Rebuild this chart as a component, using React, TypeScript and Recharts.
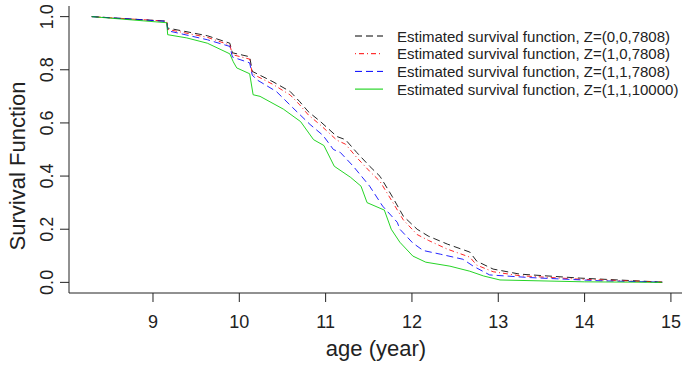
import React from 'react';
import { LineChart, Line, XAxis, YAxis, Legend } from 'recharts';

const FONT = '"Liberation Sans", Arial, Helvetica, sans-serif';

const xTicks = [9, 10, 11, 12, 13, 14, 15];
const yTicks = [0, 0.2, 0.4, 0.6, 0.8, 1.0];

const blackAge = [8.29, 9.16, 9.17, 9.63, 9.89, 9.92, 10.12, 10.15, 10.39, 10.59, 10.7, 10.8, 10.94, 11.13, 11.23, 11.36, 11.51, 11.63, 11.77, 11.9, 12.06, 12.19, 12.41, 12.67, 12.75, 12.94, 13.25, 13.95, 14.9];
const blackVal = [1.0, 0.983, 0.957, 0.928, 0.9, 0.864, 0.849, 0.794, 0.755, 0.718, 0.68, 0.642, 0.605, 0.549, 0.537, 0.489, 0.437, 0.399, 0.324, 0.249, 0.2, 0.174, 0.144, 0.114, 0.08, 0.05, 0.031, 0.016, 0.001];

const redAge = [8.29, 9.16, 9.17, 9.63, 9.89, 9.92, 10.12, 10.15, 10.39, 10.59, 10.7, 10.8, 10.94, 11.13, 11.23, 11.36, 11.51, 11.63, 11.77, 11.9, 12.06, 12.19, 12.41, 12.67, 12.75, 12.94, 13.25, 13.95, 14.9];
const redVal = [1.0, 0.983, 0.952, 0.922, 0.893, 0.857, 0.84, 0.785, 0.745, 0.705, 0.668, 0.63, 0.592, 0.535, 0.52, 0.47, 0.418, 0.38, 0.305, 0.235, 0.18, 0.158, 0.125, 0.095, 0.065, 0.04, 0.025, 0.012, 0.001];

const blueAge = [8.29, 9.16, 9.17, 9.63, 9.89, 9.92, 10.12, 10.15, 10.2, 10.43, 10.62, 10.82, 10.97, 11.09, 11.17, 11.32, 11.51, 11.66, 11.83, 11.86, 12.01, 12.13, 12.33, 12.59, 12.71, 12.9, 13.37, 14.18, 14.9];
const blueVal = [1.0, 0.982, 0.947, 0.913, 0.888, 0.848, 0.826, 0.78, 0.763, 0.718, 0.657, 0.594, 0.553, 0.5, 0.489, 0.437, 0.362, 0.287, 0.226, 0.2, 0.148, 0.12, 0.106, 0.087, 0.061, 0.028, 0.018, 0.006, 0.001];

const greenAge = [8.29, 9.16, 9.17, 9.39, 9.63, 9.89, 9.93, 9.97, 10.12, 10.16, 10.24, 10.51, 10.71, 10.86, 10.98, 11.1, 11.29, 11.41, 11.48, 11.68, 11.76, 11.86, 12.01, 12.16, 12.44, 12.67, 12.83, 13.02, 14.0, 14.9];
const greenVal = [1.0, 0.977, 0.932, 0.92, 0.9, 0.86, 0.83, 0.807, 0.785, 0.706, 0.7, 0.652, 0.605, 0.537, 0.515, 0.437, 0.395, 0.362, 0.3, 0.272, 0.2, 0.151, 0.099, 0.076, 0.061, 0.042, 0.024, 0.009, 0.002, 0.0];

const seriesNames = [
  'Estimated survival function, Z=(0,0,7808)',
  'Estimated survival function, Z=(1,0,7808)',
  'Estimated survival function, Z=(1,1,7808)',
  'Estimated survival function, Z=(1,1,10000)',
];

const toPts = (ages: number[], vals: number[]) => ages.map((a, i) => ({ a, v: vals[i] }));

const series = [
  { name: seriesNames[0], data: toPts(blackAge, blackVal), color: '#000000', dash: '7 4' },
  { name: seriesNames[1], data: toPts(redAge, redVal), color: '#ff0000', dash: '1 3 5 3' },
  { name: seriesNames[2], data: toPts(blueAge, blueVal), color: '#0000ff', dash: '7 4' },
  { name: seriesNames[3], data: toPts(greenAge, greenVal), color: '#00cd00', dash: undefined as string | undefined },
];

const XTick = (props: any) => {
  const { x, payload } = props;
  return (
    <text x={x} y={327.5} textAnchor="middle" fontFamily={FONT} fontSize={18} fill="#222">
      {payload.value}
    </text>
  );
};

const YTick = (props: any) => {
  const { y, payload } = props;
  return (
    <text transform={`translate(53,${y}) rotate(-90)`} textAnchor="middle" fontFamily={FONT} fontSize={18} fill="#222">
      {Number(payload.value).toFixed(1)}
    </text>
  );
};

const XLabel = () => (
  <text x={376} y={356} textAnchor="middle" fontFamily={FONT} fontSize={22} fill="#222">
    age (year)
  </text>
);

const YLabel = () => (
  <text transform="translate(25,166) rotate(-90)" textAnchor="middle" fontFamily={FONT} fontSize={22} fill="#222">
    Survival Function
  </text>
);

const LegendContent = () => (
  <svg width={682} height={100} style={{ display: 'block' }}>
    {series.map((s, i) => {
      const y = 36 + i * 17.7;
      return (
        <g key={s.name}>
          <line x1={355} x2={383} y1={y} y2={y} stroke={s.color} strokeWidth={1} strokeDasharray={s.dash} />
          <text x={397} y={y + 5.5} fontFamily={FONT} fontSize={15} fill="#222">
            {s.name}
          </text>
        </g>
      );
    })}
  </svg>
);

export default function App() {
  return (
    <div style={{ position: 'absolute', left: 0, top: 0, width: 682, height: 365, overflow: 'hidden', background: '#fff' }}>
      <LineChart width={690} height={365} margin={{ top: 6, right: 7, bottom: 0, left: 0 }}>
        <XAxis
          xAxisId="b"
          type="number"
          dataKey="a"
          domain={[8.027, 15.14]}
          ticks={xTicks}
          interval={0}
          allowDataOverflow
          height={72}
          tickSize={9}
          tick={<XTick />}
          stroke="#222"
          label={<XLabel />}
        />
        <XAxis
          xAxisId="t"
          orientation="top"
          type="number"
          dataKey="a"
          domain={[8.027, 15.14]}
          allowDataOverflow
          height={0}
          tick={false}
          tickLine={false}
          stroke="#222"
        />
        <YAxis
          type="number"
          domain={[-0.04, 1.04]}
          ticks={yTicks}
          interval={0}
          allowDataOverflow
          width={69}
          tickSize={9}
          tick={<YTick />}
          stroke="#222"
          label={<YLabel />}
        />
        {series.map((s) => (
          <Line
            key={s.name}
            xAxisId="b"
            data={s.data}
            dataKey="v"
            name={s.name}
            type="linear"
            stroke={s.color}
            strokeWidth={1}
            strokeOpacity={0.85}
            strokeDasharray={s.dash}
            dot={false}
            activeDot={false}
            isAnimationActive={false}
          />
        ))}
        <Legend
          layout="vertical"
          align="center"
          verticalAlign="middle"
          content={<LegendContent />}
          wrapperStyle={{ left: 0, top: 0, width: 682, height: 100 }}
        />
      </LineChart>
    </div>
  );
}
